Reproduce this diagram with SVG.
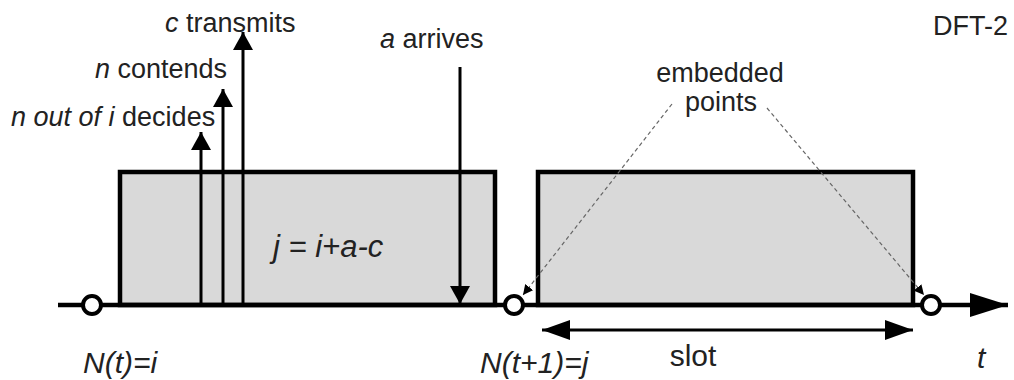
<svg xmlns="http://www.w3.org/2000/svg" width="1014" height="380" viewBox="0 0 1014 380">
<style>
text{font-family:"Liberation Sans",Arial,sans-serif;font-size:27px;fill:#222}
.it{font-style:italic}
.lg{font-size:30px}
.eq{font-size:31px}
.box{fill:#d9d9d9;stroke:#000;stroke-width:4.5}
.ln{stroke:#000;stroke-width:3;fill:none}
.ax{stroke:#000;stroke-width:4.5;fill:none}
.dash{stroke:#666;stroke-width:1.2;stroke-dasharray:4,3;fill:none}
.pt{fill:#fff;stroke:#000;stroke-width:4}
</style>
<defs>
<marker id="ah" markerWidth="20" markerHeight="20" viewBox="0 0 18 20" refX="18" refY="10" orient="auto" markerUnits="userSpaceOnUse"><path d="M0,0 L18,10 L0,20 Z" fill="#000"/></marker>
<marker id="big" markerWidth="38" markerHeight="24" viewBox="0 0 38 24" refX="38" refY="12" orient="auto" markerUnits="userSpaceOnUse"><path d="M0,0 L38,12 L0,24 Z" fill="#000"/></marker>
<marker id="sl" markerWidth="28" markerHeight="20" viewBox="0 0 28 20" refX="28" refY="10" orient="auto-start-reverse" markerUnits="userSpaceOnUse"><path d="M0,0 L28,10 L0,20 Z" fill="#000"/></marker>
<marker id="sm" markerWidth="10" markerHeight="10" viewBox="0 0 10 10" refX="10" refY="5" orient="auto" markerUnits="userSpaceOnUse"><path d="M0,0 L10,5 L0,10 Z" fill="#000"/></marker>
</defs>
<g id="slot1"><rect class="box" x="120" y="172" width="375" height="133"/></g>
<g id="slot2"><rect class="box" x="538" y="172" width="375" height="133"/></g>
<g id="connectors">
<line class="ax" x1="58" y1="305" x2="1008" y2="305" marker-end="url(#big)"/>
<line class="ln" x1="201" y1="305" x2="201" y2="132" marker-end="url(#ah)"/>
<line class="ln" x1="223" y1="305" x2="223" y2="89" marker-end="url(#ah)"/>
<line class="ln" x1="243" y1="305" x2="243" y2="32" marker-end="url(#ah)"/>
<line class="ln" x1="460" y1="67" x2="460" y2="304" marker-end="url(#ah)"/>
<line class="ln" x1="542" y1="330" x2="913" y2="330" marker-start="url(#sl)" marker-end="url(#sl)"/>
<line class="dash" x1="672" y1="104" x2="523" y2="295" marker-end="url(#sm)"/>
<line class="dash" x1="767" y1="108" x2="924" y2="295" marker-end="url(#sm)"/>
</g>
<g id="p0"><circle class="pt" cx="92" cy="305" r="9"/></g>
<g id="p1"><circle class="pt" cx="514" cy="305" r="9"/></g>
<g id="p2"><circle class="pt" cx="931" cy="305" r="9"/></g>
<g id="labels">
<text x="165" y="32"><tspan class="it">c</tspan> transmits</text>
<text x="95" y="78"><tspan class="it">n</tspan> contends</text>
<text x="11" y="126" class="it">n out of i <tspan font-style="normal">decides</tspan></text>
<text x="380" y="48"><tspan class="it">a</tspan> arrives</text>
<text x="720" y="82" text-anchor="middle">embedded</text>
<text x="721" y="111" text-anchor="middle">points</text>
<text x="1008" y="35" text-anchor="end">DFT-2</text>
<text x="273" y="257" class="it eq">j = i+a-c</text>
<text x="83" y="373" class="it lg">N(t)=i</text>
<text x="480" y="373" class="it lg">N(t+1)=j</text>
<text x="693" y="366" text-anchor="middle" class="lg">slot</text>
<text x="977" y="368" class="it lg">t</text>
</g>
</svg>
